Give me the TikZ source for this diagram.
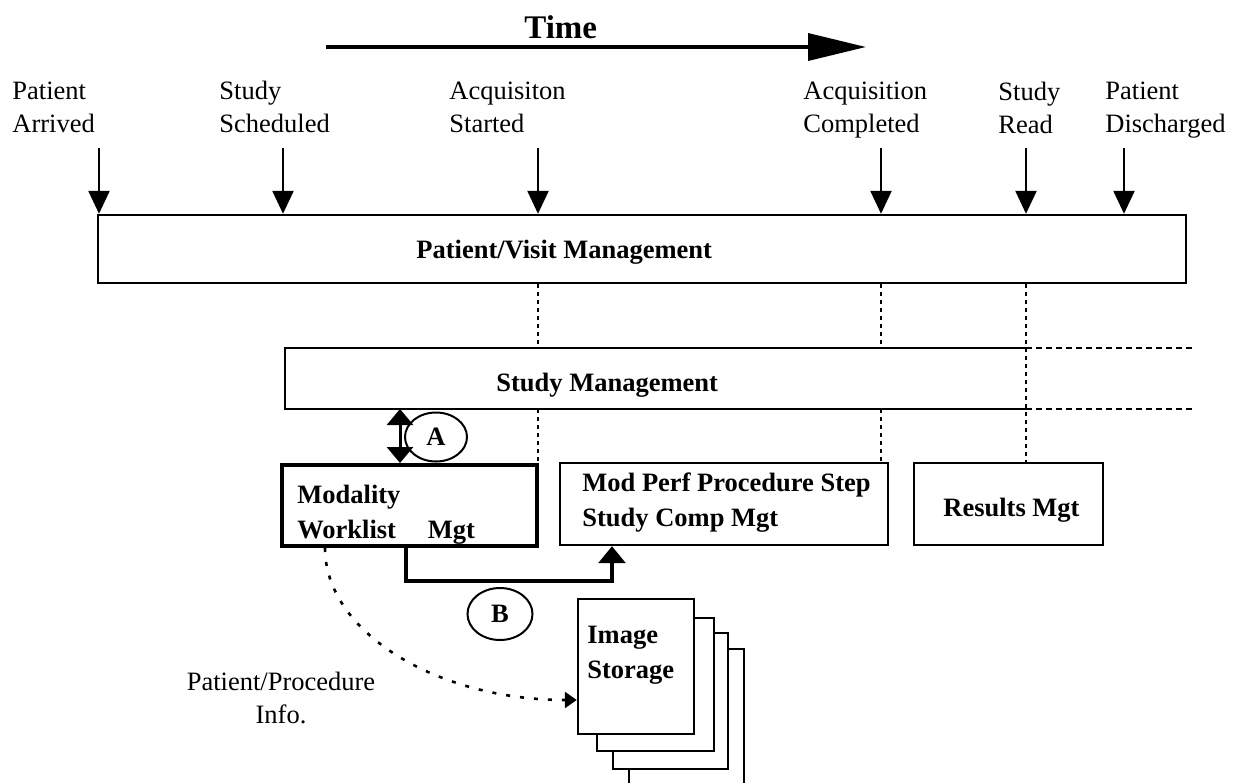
\documentclass[tikz,border=0pt]{standalone}
\usepackage{fontspec}
\setmainfont{Liberation Serif}
\usetikzlibrary{arrows.meta,shapes.geometric}

\tikzset{
  evlbl/.style={anchor=base west,align=left,inner sep=0pt,
    font=\fontsize{13.25}{16.5}\selectfont},
  boxlbl/.style={anchor=base west,align=left,inner sep=0pt,
    font=\fontsize{13.25}{17.5}\selectfont\bfseries},
  blockbox/.style={draw,line width=1.2pt,fill=white,inner sep=0pt},
  page/.style={draw,line width=1.2pt,fill=white,inner sep=0pt},
  evarrow/.style={line width=1.2pt,-{Triangle[length=11.5pt,width=10.5pt]}},
  dotline/.style={line width=1.3pt,dash pattern=on 2pt off 2pt},
  dashline/.style={line width=1.2pt,dash pattern=on 3pt off 2pt},
  tag/.style={draw,ellipse,line width=1pt,inner sep=0pt,
    font=\fontsize{13.25}{16}\selectfont\bfseries}
}

\begin{document}
\begin{tikzpicture}[x=0.5pt,y=-0.5pt]
  \useasboundingbox (0,0) rectangle (1233,783);

  % time axis
  \coordinate (tstart) at (326,47);
  \coordinate (tend) at (866,47);
  \draw[line width=1.8pt,-{Triangle[length=29pt,width=13.5pt]}] (tstart) -- (tend);
  \node[anchor=base west,inner sep=0pt,font=\fontsize{16.5}{19}\selectfont\bfseries] (time) at (524,38) {Time};

  % events (base = last line)
  \node[evlbl] (lpa) at (12,132) {Patient\\Arrived};
  \node[evlbl] (lss) at (219,132) {Study\\Scheduled};
  \node[evlbl] (las) at (449,132) {Acquisiton\\Started};
  \node[evlbl] (lac) at (803,132) {Acquisition\\Completed};
  \node[evlbl] (lsr) at (998,133) {Study\\Read};
  \node[evlbl] (lpd) at (1105,132) {Patient\\Discharged};

  \foreach \ev/\x in {pa/99,ss/283,as/538,ac/881,sr/1026,pd/1124}
    \coordinate (\ev) at (\x,148);

  \node[blockbox,minimum width=544pt,minimum height=34pt] (pv) at (642,249) {};
  \node[boxlbl] (pvtext) at (416,258) {Patient/Visit Management};

  \foreach \ev in {pa,ss,as,ac,sr,pd}
    \draw[evarrow] (\ev) -- (\ev |- pv.north);

  % study management (open to the right)
  \coordinate (smtl) at (285,348);
  \coordinate (smbl) at (285,409);
  \coordinate (smtd) at (1193,348);
  \coordinate (smbd) at (1193,409);
  \draw[line width=1.2pt] (sr |- smtl) -- (smtl) -- (smbl) -- (sr |- smbl);
  \draw[dashline] (sr |- smtl) -- (smtd);
  \draw[dashline] (sr |- smbl) -- (smbd);
  \node[boxlbl] (smtext) at (496,391) {Study Management};

  % lower boxes
  \node[blockbox,line width=2pt,minimum width=127.5pt,minimum height=40.5pt] (mwl) at (409,505.5) {};
  \node[boxlbl] (mwltext) at (297,538) {Modality\\Worklist\hspace{1.2em}Mgt};
  \node[blockbox,minimum width=164pt,minimum height=41pt] (mpps) at (724,504) {};
  \node[boxlbl] (mppstext) at (582,526) {Mod Perf Procedure Step\\Study Comp Mgt};
  \node[blockbox,minimum width=94.5pt,minimum height=41pt] (res) at (1008.5,504) {};
  \node[boxlbl] (restext) at (943,516) {Results Mgt};

  % dotted links
  \draw[dotline] (as |- pv.south) -- (as |- smtl);
  \draw[dotline] (as |- smbl) -- (as |- mwl.north);
  \draw[dotline] (ac |- pv.south) -- (ac |- smtl);
  \draw[dotline] (ac |- smbl) -- (ac |- mpps.north);
  \draw[dotline] (sr |- pv.south) -- (sr |- res.north);

  % A
  \coordinate (wlup) at (400,409);
  \draw[line width=1.5pt,{Triangle[length=8pt,width=13pt]}-{Triangle[length=8pt,width=13pt]}] (wlup) -- (wlup |- mwl.north);
  \node[tag,minimum width=31pt,minimum height=24.5pt] (ta) at (436,437) {A};

  % B
  \coordinate (bx) at (406,581);
  \coordinate (bend) at (612,581);
  \draw[line width=1.6pt,-{Triangle[length=8.5pt,width=13.5pt]}] (mwl.south -| bx) |- (bend) -- (bend |- mpps.south);
  \node[tag,minimum width=32.5pt,minimum height=26pt] (tb) at (500,614) {B};

  % image storage stack
  \draw[line width=1.2pt] (629,783) |- (744,649) -- (744,783);
  \node[page,minimum width=57.5pt,minimum height=68pt] (img3) at (670.5,701) {};
  \node[page,minimum width=58.5pt,minimum height=66.5pt] (img2) at (655.5,684.5) {};
  \node[page,minimum width=58pt,minimum height=67.5pt] (img1) at (636,666.5) {};
  \node[boxlbl,align=left] (imgtext) at (587,678) {Image\\Storage};

  % patient/procedure info
  \coordinate (pin) at (0,700);
  \draw[line width=1.3pt,dash pattern=on 2pt off 5pt,-{Triangle[length=6pt,width=8pt]}]
    (mwl.south -| 325,0) .. controls +(0,84) and +(-140,0) .. (img1.west |- pin);
  \node[evlbl,anchor=base,align=center] (pptext) at (281,723) {Patient/Procedure\\Info.};
\end{tikzpicture}
\end{document}
